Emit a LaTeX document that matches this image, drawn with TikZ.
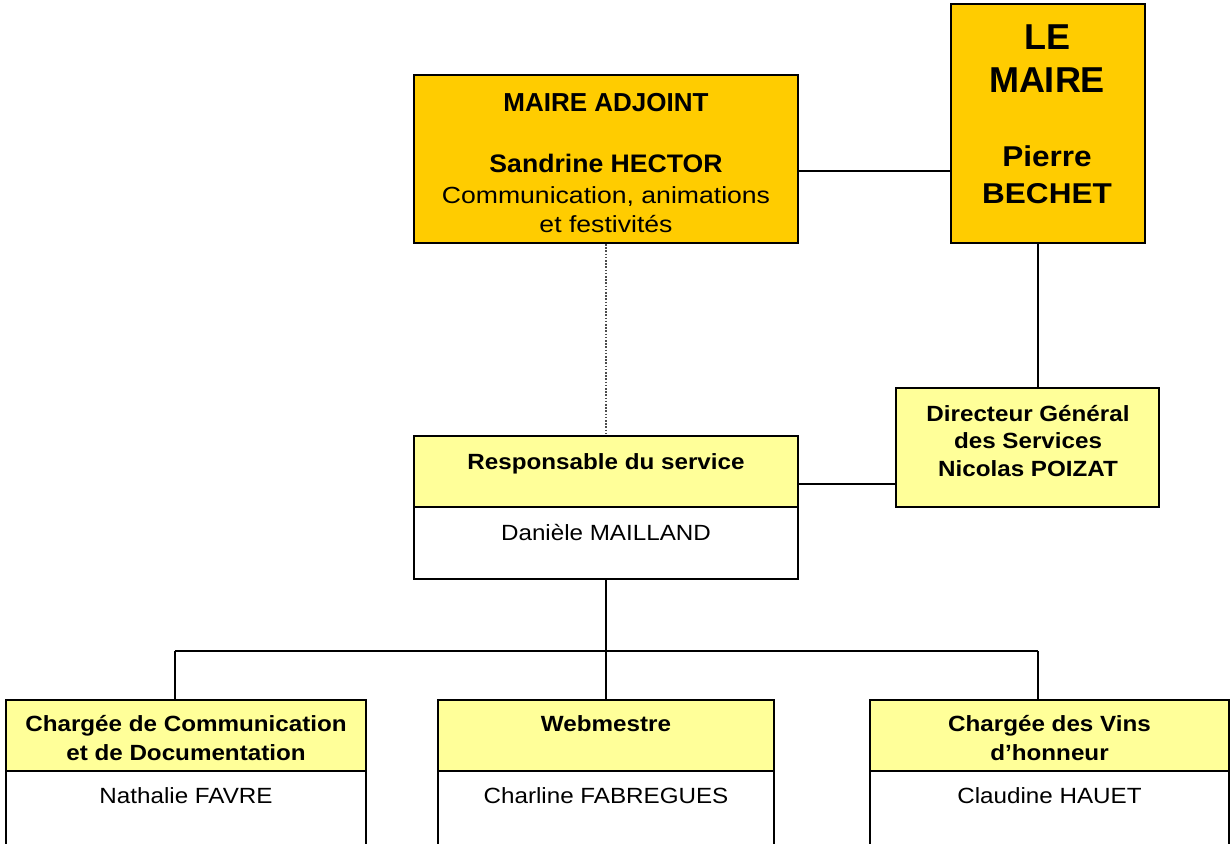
\documentclass[tikz,border=0pt]{standalone}
\usepackage{fontspec}
\setmainfont{Liberation Sans}
\newfontfamily\fsA{Liberation Sans}[FakeStretch=1.1]
\newfontfamily\fsB{Liberation Sans}[FakeStretch=1.14]
\newfontfamily\fsC{Liberation Sans}[FakeStretch=1.05]
\newfontfamily\fsD{Liberation Sans}[FakeStretch=1.0]
\usetikzlibrary{fit}
\definecolor{gold}{HTML}{FFCC00}
\definecolor{paleyellow}{HTML}{FFFF99}
\tikzset{
  box/.style={draw=black, line width=1.5pt, inner sep=0pt},
  link/.style={draw=black, line width=1.4pt},
  dotlink/.style={draw=black!70, line width=0.8pt, dash pattern=on 1.2pt off 1.2pt},
  txt/.style={anchor=base, inner sep=0pt, align=center},
  small/.style={font=\fsA\fontsize{16.5}{20}\selectfont},
  smallb/.style={font=\fsA\bfseries\fontsize{16.5}{20}\selectfont}
}
\begin{document}
\begin{tikzpicture}[x=0.75pt, y=-0.75pt]
\useasboundingbox (0,0) rectangle (1231,843);
\clip (0,0) rectangle (1231,843);
\fill[white] (0,0) rectangle (1231,843);

% top boxes
\node[box, fill=gold, fit={(414,75) (798,243)}] (ma) {};
\node[box, fill=gold, fit={(951,3.5) (1145,243)}] (lm) {};
% DGS
\node[box, fill=paleyellow, fit={(896,388) (1159,507)}] (dgs) {};
% Responsable
\node[box, fill=paleyellow, fit={(414,436) (798,507)}] (resph) {};
\node[box, fill=white, fit={(414,507) (798,579)}] (respb) {};
\node[inner sep=0pt, fit=(resph)(respb)] (resp) {};
% bottom boxes
\node[box, fill=paleyellow, fit={(6,700) (366,771)}] (b1h) {};
\node[box, fill=white, fit={(6,771) (366,870)}] (b1b) {};
\node[box, fill=paleyellow, fit={(438,700) (774,771)}] (b2h) {};
\node[box, fill=white, fit={(438,771) (774,870)}] (b2b) {};
\node[box, fill=paleyellow, fit={(870,700) (1229,771)}] (b3h) {};
\node[box, fill=white, fit={(870,771) (1229,870)}] (b3b) {};

% connectors
\coordinate (j1) at (798,171);
\draw[link] (j1) -- (j1 -| lm.west);
\coordinate (j2) at (1038,300);
\draw[link] (lm.south -| j2) -- (dgs.north -| j2);
\draw[dotlink] (ma.south) -- (resph.north);
\coordinate (j3) at (850,484);
\draw[link] (j3 -| resph.east) -- (j3 -| dgs.west);
\coordinate (t0) at (606,651);
\coordinate (tl) at (175,651);
\coordinate (tr) at (1038,651);
\draw[link] (t0 |- respb.south) -- (t0);
\draw[link] (tl) -- (tr);
\draw[link] (tl) -- (tl |- b1h.north);
\draw[link] (t0) -- (t0 |- b2h.north);
\draw[link] (tr) -- (tr |- b3h.north);

% texts top-left
\node[txt, font=\fsD\bfseries\fontsize{19.5}{23}\selectfont] (ma1) at (606,111) {MAIRE ADJOINT};
\node[txt, font=\fsC\bfseries\fontsize{19}{23}\selectfont] (ma2) at (606,172) {Sandrine HECTOR};
\node[txt, font=\fsB\fontsize{17.5}{21}\selectfont] (ma3) at (606,203) {Communication, animations};
\node[txt, font=\fsB\fontsize{17.5}{21}\selectfont] (ma4) at (606,232) {et festivités};
% Le Maire
\node[txt, font=\fsD\bfseries\fontsize{27}{32}\selectfont] (lm1) at (1047,49) {LE};
\node[txt, font=\fsD\bfseries\fontsize{27}{32}\selectfont] (lm2) at (1047,92) {MAIRE};
\node[txt, font=\fsA\bfseries\fontsize{21.5}{26}\selectfont] (lm3) at (1047,166) {Pierre};
\node[txt, font=\fsA\bfseries\fontsize{21.5}{26}\selectfont] (lm4) at (1047,203) {BECHET};
% DGS
\node[txt, smallb] (d1) at (1028,421) {Directeur Général};
\node[txt, smallb] (d2) at (1028,448) {des Services};
\node[txt, smallb] (d3) at (1028,476) {Nicolas POIZAT};
% Responsable
\node[txt, smallb] (r1) at (606,469) {Responsable du service};
\node[txt, small] (r2) at (606,540) {Danièle MAILLAND};
% bottom
\node[txt, smallb] (c1) at (186,731.5) {Chargée de Communication};
\node[txt, smallb] (c2) at (186,760) {et de Documentation};
\node[txt, small] (c3) at (186,803) {Nathalie FAVRE};
\node[txt, smallb] (w1) at (606,731.5) {Webmestre};
\node[txt, small] (w2) at (606,803) {Charline FABREGUES};
\node[txt, smallb] (v1) at (1049.5,731.5) {Chargée des Vins};
\node[txt, smallb] (v2) at (1049.5,760) {d’honneur};
\node[txt, small] (v3) at (1049.5,803) {Claudine HAUET};
\end{tikzpicture}
\end{document}
